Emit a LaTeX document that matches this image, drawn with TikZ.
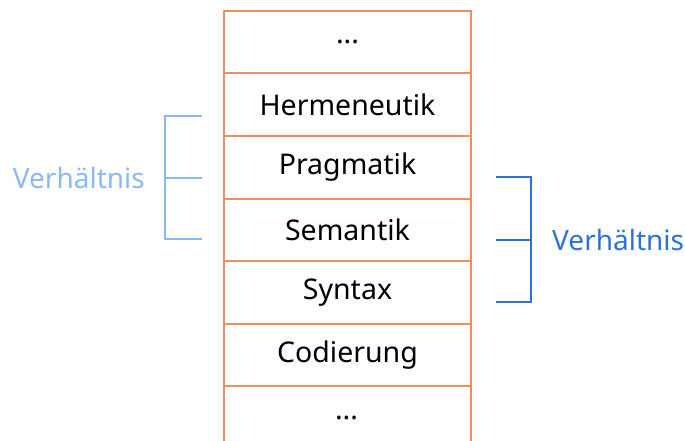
\documentclass[tikz,border=0pt]{standalone}
\usepackage{fontspec}
\setmainfont{Noto Sans}
\definecolor{boxorange}{RGB}{235,145,95}
\definecolor{lightblue}{RGB}{140,185,240}
\definecolor{darkblue}{RGB}{45,115,215}
\begin{document}
\begin{tikzpicture}[x=1pt,y=-1pt,
  layer/.style={draw=boxorange,line width=2pt,minimum width=247pt,minimum height=62.5pt,inner sep=0pt,font=\fontsize{28.5}{32}\selectfont,anchor=north west},
  lbl/.style={font=\fontsize{28}{32}\selectfont,inner sep=0pt}]
\clip (0,0) rectangle (685,441);
\useasboundingbox (0,0) rectangle (685,441);
\node[layer] (r0) at (223,10) {...};
\node[layer] (r1) at (223,72.5) {Hermeneutik};
\node[layer] (r2) at (223,135) {Pragmatik};
\node[layer] (r3) at (223,197.5) {Semantik};
\node[layer] (r4) at (223,260) {Syntax};
\node[layer] (r5) at (223,322.5) {Codierung};
\node[layer,minimum height=70pt] (r6) at (223,385) {};
\node[font=\fontsize{28.5}{32}\selectfont,inner sep=0pt] at (346.5,418) {...};
% left bracket
\coordinate (lt) at (202,116);
\coordinate (lm) at (202,178);
\coordinate (lb) at (202,239);
\draw[lightblue,line width=1.4pt] (lt) -- (165,116) -- (165,239) -- (lb);
\draw[lightblue,line width=1.4pt] (165,178) -- (lm);
\node[lbl,text=lightblue,anchor=east] (lv) at (145,178) {Verhältnis};
% right bracket
\coordinate (rt) at (496,177);
\coordinate (rm) at (496,240);
\coordinate (rb) at (496,302);
\draw[darkblue,line width=1.4pt] (rt) -- (531,177) -- (531,302) -- (rb);
\draw[darkblue,line width=1.4pt] (531,240) -- (rm);
\node[lbl,text=darkblue,anchor=west] (rv) at (552,240) {Verhältnis};
\end{tikzpicture}
\end{document}
